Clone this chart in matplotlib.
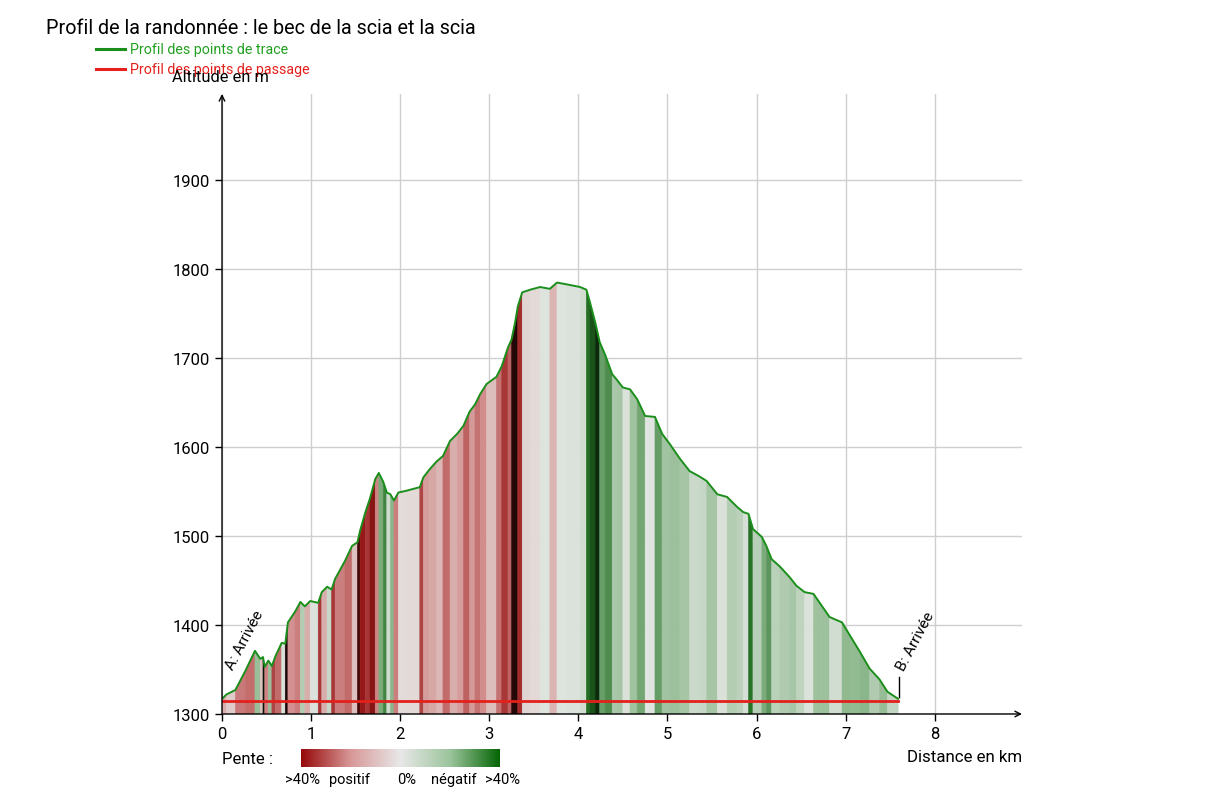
import matplotlib
matplotlib.use("Agg")
import matplotlib.pyplot as plt
import numpy as np
from matplotlib.colors import LinearSegmentedColormap, Normalize
from matplotlib.collections import PolyCollection

plt.rcParams['font.family'] = ['Roboto', 'DejaVu Sans']

# ---- data ----
distance_km = [0.0, 0.05, 0.15, 0.26, 0.37, 0.43, 0.46, 0.48, 0.52, 0.56, 0.6, 0.67, 0.71, 0.74,
               0.82, 0.88, 0.93, 0.99, 1.08, 1.12, 1.18, 1.23, 1.27, 1.38, 1.46, 1.52, 1.55, 1.61,
               1.66, 1.72, 1.76, 1.81, 1.85, 1.89, 1.93, 1.98, 2.07, 2.22, 2.26, 2.33, 2.41, 2.48,
               2.56, 2.64, 2.71, 2.78, 2.84, 2.90, 2.97, 3.08, 3.14, 3.21, 3.25, 3.29, 3.32, 3.37,
               3.46, 3.57, 3.68, 3.76, 3.87, 4.02, 4.09, 4.13, 4.19, 4.24, 4.30, 4.38, 4.43, 4.50,
               4.58, 4.66, 4.75, 4.86, 4.94, 5.03, 5.14, 5.25, 5.36, 5.44, 5.56, 5.67, 5.78, 5.85,
               5.91, 5.96, 6.06, 6.11, 6.17, 6.26, 6.37, 6.45, 6.54, 6.64, 6.73, 6.82, 6.96, 7.05,
               7.16, 7.27, 7.38, 7.47, 7.59]
altitude_m = [1317, 1322, 1327, 1348, 1371, 1362, 1364, 1353, 1360, 1354, 1365, 1380, 1379, 1403,
              1415, 1426, 1421, 1427, 1425, 1437, 1443, 1440, 1452, 1472, 1489, 1493, 1506, 1527,
              1542, 1564, 1571, 1561, 1549, 1547, 1540, 1549, 1551, 1555, 1566, 1575, 1584, 1590,
              1607, 1615, 1624, 1640, 1648, 1660, 1671, 1679, 1691, 1712, 1721, 1740, 1758, 1774,
              1777, 1780, 1778, 1785, 1783, 1780, 1777, 1763, 1740, 1718, 1704, 1682, 1676, 1667,
              1665, 1654, 1635, 1634, 1615, 1603, 1587, 1573, 1567, 1562, 1547, 1544, 1533, 1527,
              1525, 1508, 1499, 1489, 1474, 1466, 1454, 1444, 1437, 1435, 1422, 1409, 1403, 1388,
              1370, 1351, 1339, 1325, 1317]
passage_km = [0.0, 7.59]
passage_alt = [1315, 1315]
x_ticks = [0, 1, 2, 3, 4, 5, 6, 7, 8]
y_ticks = [1300, 1400, 1500, 1600, 1700, 1800, 1900]
legend_labels = ["Profil des points de trace", "Profil des points de passage"]
slope_labels = [">40%", "positif", "0%", "négatif", ">40%"]

W, H = 1224, 804
fig = plt.figure(figsize=(W/100, H/100), dpi=100)
ax = fig.add_axes([222/W, 1-715/H, (1022-222)/W, (715-95)/H])
ax.set_xlim(0, 8.98)
ax.set_ylim(1300, 1997)

# slope colormap (value = -slope in %, so climbs are red on the left)
cmap = LinearSegmentedColormap.from_list("pente", [
    (0.0, '#1a0404'), (0.06, '#3a0808'), (0.15, '#981818'), (0.33, '#cf8585'),
    (0.5, '#e6e8e6'), (0.66, '#94bc94'), (0.85, '#236f23'), (0.94, '#0b2a0b'),
    (1.0, '#061306')])
norm = Normalize(-50, 50)

d = np.array(distance_km); a = np.array(altitude_m)
polys, cols = [], []
for i in range(len(d) - 1):
    slope = (a[i+1] - a[i]) / ((d[i+1] - d[i]) * 1000) * 100
    polys.append([(d[i], 1300), (d[i], a[i]), (d[i+1], a[i+1]), (d[i+1], 1300)])
    cols.append(cmap(norm(-slope)))
pc = PolyCollection(polys, facecolors=cols, edgecolors=cols, linewidths=0.4, zorder=2)
ax.add_collection(pc)

ax.plot(distance_km, altitude_m, color='#1b8f1b', lw=1.4, zorder=4)
ax.plot(passage_km, passage_alt, color='#e3201b', lw=2.0, zorder=5)

# grid
ax.set_xticks(x_ticks)
ax.set_yticks(y_ticks)
ax.grid(True, color='#cfcfcf', lw=1.0, zorder=0)
ax.set_axisbelow(True)
for s in ['top', 'right', 'left', 'bottom']:
    ax.spines[s].set_visible(False)
ax.tick_params(axis='both', labelsize=12, length=5, width=1, color='black', pad=4)
ax.annotate('', xy=(1.0, 0), xytext=(0, 0), xycoords='axes fraction',
            arrowprops=dict(arrowstyle='->', color='black', lw=1, shrinkA=0, shrinkB=0), zorder=6)
ax.annotate('', xy=(0, 1.0), xytext=(0, 0), xycoords='axes fraction',
            arrowprops=dict(arrowstyle='->', color='black', lw=1, shrinkA=0, shrinkB=0), zorder=6)

# Arrivée labels
ax.text(0.155, 1348, "A: Arrivée", rotation=62, fontsize=11, ha='left', va='bottom',
        rotation_mode='anchor', zorder=7)
ax.plot([7.6, 7.6], [1319, 1342], color='black', lw=1, zorder=7)
ax.text(7.69, 1347, "B: Arrivée", rotation=62, fontsize=11, ha='left', va='bottom',
        rotation_mode='anchor', zorder=7)

# texts
fig.text(46/W, 1-29/H, "Profil de la randonnée : le bec de la scia et la scia",
         fontsize=14.2, va='center', ha='left')
fig.lines.append(plt.Line2D([96/W, 125/W], [1-50/H, 1-50/H], color='#1b8f1b', lw=2.2,
                            transform=fig.transFigure))
fig.text(130/W, 1-50/H, legend_labels[0], color='#22a022', fontsize=10.3, va='center')
fig.lines.append(plt.Line2D([96/W, 125/W], [1-70/H, 1-70/H], color='#e3201b', lw=2.2,
                            transform=fig.transFigure))
fig.text(130/W, 1-70/H, legend_labels[1], color='#e3201b', fontsize=10.3, va='center')
fig.text(172/W, 1-78/H, "Altitude en m", fontsize=11.8, va='center', ha='left')
fig.text(1022/W, 1-758/H, "Distance en km", fontsize=12.2, va='center', ha='right')
fig.text(222/W, 1-760/H, "Pente :", fontsize=12, va='center', ha='left')

cax = fig.add_axes([301/W, 1-768/H, (500-301)/W, 18/H])
grad = np.linspace(-50, 50, 256).reshape(1, -1)
cmap_bar = LinearSegmentedColormap.from_list("bar", ['#960808', '#d89898', '#e8e8e8',
                                                     '#9cc49c', '#056605'])
cax.imshow(grad, aspect='auto', cmap=cmap_bar, extent=[0, 1, 0, 1])
cax.set_axis_off()
for lbl, xp in zip(slope_labels, [302, 350, 407, 454, 503]):
    fig.text(xp/W, 1-780/H, lbl, fontsize=10.5, ha='center', va='center')

fig.savefig("out.png", dpi=100)
